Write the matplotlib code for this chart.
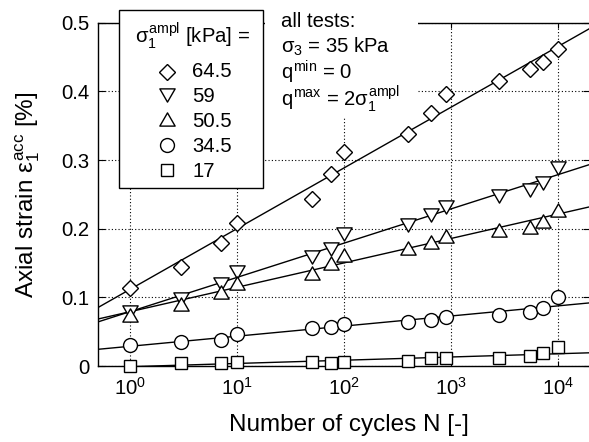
import matplotlib.pyplot as plt
import numpy as np
from matplotlib.lines import Line2D
from matplotlib.patches import Rectangle
from matplotlib.path import Path

plt.rcParams['font.family'] = ['Liberation Sans', 'DejaVu Sans']
plt.rcParams['mathtext.fontset'] = 'custom'
plt.rcParams['mathtext.rm'] = 'Liberation Sans'
plt.rcParams['mathtext.it'] = 'Liberation Sans'
plt.rcParams['mathtext.bf'] = 'Liberation Sans:bold'

# number of cycles at which the accumulated strain was recorded
N = np.array([1, 3, 7, 10, 50, 75, 100, 400, 650, 900, 2800, 5500, 7300, 10000])

# accumulated axial strain [%] for each stress amplitude
eps_645 = [0.113, 0.144, 0.179, 0.209, 0.243, 0.279, 0.312, 0.338, 0.368, 0.396, 0.415, 0.432, 0.443, 0.462]
eps_59 = [0.078, 0.097, 0.120, 0.137, 0.159, 0.171, 0.192, 0.206, 0.220, 0.232, 0.248, 0.257, 0.266, 0.288]
eps_505 = [0.075, 0.090, 0.108, 0.121, 0.135, 0.150, 0.161, 0.172, 0.181, 0.190, 0.198, 0.202, 0.211, 0.227]
eps_345 = [0.030, 0.035, 0.038, 0.047, 0.055, 0.057, 0.061, 0.064, 0.067, 0.072, 0.074, 0.078, 0.085, 0.100]
eps_17 = [0.000, 0.004, 0.004, 0.006, 0.006, 0.005, 0.0055, 0.008, 0.011, 0.012, 0.011, 0.015, 0.019, 0.027]

amplitudes = ['64.5', '59', '50.5', '34.5', '17']
series = [eps_645, eps_59, eps_505, eps_345, eps_17]

tri_up = [(-1, -0.866), (1, -0.866), (0, 0.866), (-1, -0.866)]
tri_dn = [(x, -y) for x, y in tri_up]
markers = [('D', 8.0), (Path(tri_dn, closed=True), 11.0), (Path(tri_up, closed=True), 11.0),
           ('o', 10.0), ('s', 8.6)]

W, H = 589, 442
fig = plt.figure(figsize=(W / 100, H / 100), dpi=100)


def fx(px):
    return px / W


def fy(py):
    return 1 - py / H


ax = fig.add_axes([fx(98.3), fy(366), (590 - 98.3) / W, (366 - 22.7) / H])

logN = np.log10(N)
xfit = np.logspace(np.log10(0.5), np.log10(2e4), 100)
for eps, (m, ms) in zip(series, markers):
    # straight line in semi-log scale: eps = a + b*log10(N)
    b, a = np.polyfit(logN, eps, 1)
    ax.plot(xfit, a + b * np.log10(xfit), color='black', lw=1.0, zorder=2)
    ax.plot(N, eps, ls='none', marker=m, ms=ms, mfc='white', mec='black', mew=1.0,
            zorder=3, clip_on=False)

ax.set_xscale('log')
ax.set_xlim(0.5, 2e4)
ax.set_ylim(0, 0.5)
ax.set_xticks([1, 10, 100, 1000, 10000])
ax.xaxis.set_minor_locator(plt.NullLocator())
ax.set_yticks([0, 0.1, 0.2, 0.3, 0.4, 0.5])
ax.set_yticklabels(['0', '0.1', '0.2', '0.3', '0.4', '0.5'])
ax.grid(True, which='major', color='black', ls=(0, (1, 2)), lw=0.8, zorder=1)
ax.set_axisbelow(True)
ax.tick_params(axis='both', which='major', direction='in', top=True, right=True,
               labelsize=14.6, width=0.8)
ax.tick_params(axis='y', length=5, pad=6.5)
ax.tick_params(axis='x', length=3.6, pad=8)
for s in ax.spines.values():
    s.set_linewidth(1.0)

ax.set_xlabel('Number of cycles N [-]', fontsize=17.5)
ax.set_ylabel(r'Axial strain $\varepsilon_1^{acc}$ [%]', fontsize=17.5)
ax.xaxis.set_label_coords(0.51, -0.14)
ax.yaxis.set_label_coords(-0.1145, 0.5)

# legend box, drawn by hand so it can sit over the top frame
fig.add_artist(Rectangle((fx(119), fy(188)), (263 - 119) / W, (188 - 10) / H,
                         transform=fig.transFigure, fc='white', ec='black', lw=1.0, zorder=5))
fig.text(fx(192), fy(42.7), r'$\sigma_1^{ampl}$ [kPa] =', ha='center', va='baseline',
         fontsize=14.6, zorder=6)
ymark = [71.7, 94.5, 119.3, 145, 169.5]
ybase = [77.3, 101.7, 127.3, 151.7, 177.3]
for (m, ms), lab, ym, yb in zip(markers, amplitudes, ymark, ybase):
    fig.add_artist(Line2D([fx(167)], [fy(ym)], transform=fig.transFigure, ls='none', marker=m,
                          ms=ms, mfc='white', mec='black', mew=1.0, zorder=6))
    fig.text(fx(192), fy(yb), lab, ha='left', va='baseline', fontsize=14.6, zorder=6)

# test conditions
fig.add_artist(Rectangle((fx(265), fy(118)), (418 - 265) / W, 118 / H,
                         transform=fig.transFigure, fc='white', ec='none', zorder=5))
conditions = ['all tests:', r'$\sigma_3$ = 35 kPa', r'$q^{min}$ = 0', r'$q^{max}$ = 2$\sigma_1^{ampl}$']
for txt, yb in zip(conditions, [27, 52.5, 79, 105.5]):
    fig.text(fx(281), fy(yb), txt, ha='left', va='baseline', fontsize=14.6, zorder=6)

fig.savefig('out.png', dpi=100)
